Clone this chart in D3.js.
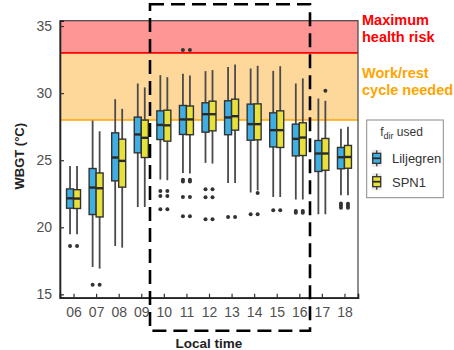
<!DOCTYPE html>
<html>
<head>
<meta charset="utf-8">
<script src="https://cdn.jsdelivr.net/npm/d3@7"></script>
<style>
  html, body { margin: 0; padding: 0; background: #fff; }
  svg { display: block; font-family: "Liberation Sans", Arial, Helvetica, sans-serif; }
</style>
</head>
<body>
<svg id="chart" width="454" height="350"></svg>
<script>
// Hourly WBGT distributions, local time 06–18
const hours = ["06","07","08","09","10","11","12","13","14","15","16","17","18"];
const seriesNames = ["Liljegren", "SPN1"];
const seriesColors = ["#3FAEE3", "#E9E13B"];

// Liljegren: lower whisker, Q1, median, Q3, upper whisker
const lilLow  = [19.48, 17.04, 18.60, 21.51, 23.56, 24.05, 24.80, 23.31, 22.59, 22.26, 22.07, 20.97, 22.39];
const lilQ1   = [21.42, 20.95, 23.46, 25.55, 26.54, 26.92, 27.09, 26.90, 26.49, 25.99, 25.32, 24.16, 24.36];
const lilMed  = [22.16, 22.96, 25.20, 26.92, 27.63, 28.04, 28.43, 28.19, 27.69, 27.24, 26.59, 25.50, 25.22];
const lilQ3   = [22.86, 24.38, 27.04, 28.21, 28.68, 29.08, 29.28, 29.43, 29.18, 28.53, 27.69, 26.47, 25.95];
const lilHigh = [24.57, 27.96, 29.55, 30.72, 31.34, 31.44, 31.64, 31.94, 31.84, 31.66, 30.72, 29.60, 27.34];
const lilOut  = [[18.6], [15.72], [], [], [22.71, 22.34, 21.34], [33.21, 23.55, 23.42, 22.26, 20.82],
                 [22.84, 22.23, 20.6], [20.77], [20.97], [21.27], [21.22, 21.08], [], [21.78, 21.62, 21.45]];

// SPN1: lower whisker, Q1, median, Q3, upper whisker
const spnLow  = [19.48, 16.92, 18.48, 21.51, 23.51, 24.00, 24.75, 23.30, 22.75, 22.26, 22.07, 20.97, 22.39];
const spnQ1   = [21.40, 20.77, 22.99, 25.20, 26.42, 26.90, 27.19, 27.24, 26.52, 25.95, 25.35, 24.25, 24.40];
const spnMed  = [22.14, 22.91, 24.95, 26.67, 27.60, 28.04, 28.43, 28.28, 27.69, 27.24, 26.69, 25.50, 25.24];
const spnQ3   = [22.80, 24.05, 26.57, 27.99, 28.73, 29.04, 29.40, 29.55, 29.20, 28.68, 27.79, 26.62, 26.10];
const spnHigh = [24.57, 27.16, 28.83, 30.43, 31.19, 31.32, 31.72, 32.14, 32.04, 32.01, 31.10, 29.43, 27.49];
const spnOut  = [[18.6], [15.72], [], [], [22.71, 22.34, 21.34], [33.21, 23.55, 23.42, 22.26, 20.82],
                 [22.84, 22.23, 20.6], [20.77], [22.55, 20.97], [21.27], [21.22, 21.08], [30.17], [21.75, 21.6, 21.45]];

// Heat-stress thresholds
const workRestLimit = 28;
const maxRiskLimit = 33;
const yTicks = [15, 20, 25, 30, 35];
const yDomain = [14.75, 35.4];

const svg = d3.select("#chart");
const panel = { left: 60, right: 358, top: 20.7, bottom: 297.7 };

const x = d3.scalePoint().domain(hours).range([panel.left, panel.right]).padding(0.6);
const y = d3.scaleLinear().domain(yDomain).range([panel.bottom, panel.top]);
const step = x.step();
const boxW = step * 0.31;

// Threshold bands
svg.append("rect")
  .attr("x", panel.left).attr("width", panel.right - panel.left)
  .attr("y", y(yDomain[1])).attr("height", y(maxRiskLimit) - y(yDomain[1]))
  .attr("fill", "#FF9696");
svg.append("rect")
  .attr("x", panel.left).attr("width", panel.right - panel.left)
  .attr("y", y(maxRiskLimit)).attr("height", y(workRestLimit) - y(maxRiskLimit))
  .attr("fill", "#FDD89A");
svg.append("line")
  .attr("x1", panel.left).attr("x2", panel.right)
  .attr("y1", y(maxRiskLimit)).attr("y2", y(maxRiskLimit))
  .attr("stroke", "#FF0000").attr("stroke-width", 1.6);
svg.append("line")
  .attr("x1", panel.left).attr("x2", panel.right)
  .attr("y1", y(workRestLimit)).attr("y2", y(workRestLimit))
  .attr("stroke", "#FFA500").attr("stroke-width", 1.6);

// Box plots
const series = [
  { low: lilLow, q1: lilQ1, med: lilMed, q3: lilQ3, high: lilHigh, out: lilOut, color: seriesColors[0], offset: -0.5 },
  { low: spnLow, q1: spnQ1, med: spnMed, q3: spnQ3, high: spnHigh, out: spnOut, color: seriesColors[1], offset: 0.5 }
];

const gBoxes = svg.append("g");
series.forEach(s => {
  hours.forEach((h, i) => {
    const cx = x(h) + s.offset * boxW;
    const g = gBoxes.append("g");
    g.append("line")
      .attr("x1", cx).attr("x2", cx)
      .attr("y1", y(s.high[i])).attr("y2", y(s.q3[i]))
      .attr("stroke", "#4a4a4a").attr("stroke-width", 1.8);
    g.append("line")
      .attr("x1", cx).attr("x2", cx)
      .attr("y1", y(s.q1[i])).attr("y2", y(s.low[i]))
      .attr("stroke", "#4a4a4a").attr("stroke-width", 1.8);
    g.append("rect")
      .attr("x", cx - boxW / 2).attr("width", boxW)
      .attr("y", y(s.q3[i])).attr("height", y(s.q1[i]) - y(s.q3[i]))
      .attr("fill", s.color).attr("stroke", "#333").attr("stroke-width", 1.4);
    g.append("line")
      .attr("x1", cx - boxW / 2).attr("x2", cx + boxW / 2)
      .attr("y1", y(s.med[i])).attr("y2", y(s.med[i]))
      .attr("stroke", "#2a2a2a").attr("stroke-width", 2.4);
    g.selectAll("circle.out").data(s.out[i]).enter().append("circle")
      .attr("cx", cx).attr("cy", d => y(d)).attr("r", 2)
      .attr("fill", "#333");
  });
});

// Panel border and axes
svg.append("rect")
  .attr("x", panel.left).attr("y", panel.top)
  .attr("width", panel.right - panel.left).attr("height", panel.bottom - panel.top)
  .attr("fill", "none").attr("stroke", "#444").attr("stroke-width", 1.2);

const yAxis = svg.append("g")
  .attr("transform", `translate(${panel.left},0)`)
  .call(d3.axisLeft(y).tickValues(yTicks).tickSize(-4).tickPadding(8));
const xAxis = svg.append("g")
  .attr("transform", `translate(0,${panel.bottom})`)
  .call(d3.axisBottom(x).tickSize(-4).tickPadding(9));
[yAxis, xAxis].forEach(a => {
  a.select(".domain").attr("stroke", "#222").attr("stroke-width", 1.6);
  a.selectAll(".tick line").attr("stroke", "#333").attr("stroke-width", 1.2);
  a.selectAll(".tick text")
    .attr("fill", "#505050").style("font-size", "14px")
    .style("font-family", "'Liberation Sans', Arial, sans-serif");
});

// Axis titles
svg.append("text")
  .attr("x", (panel.left + panel.right) / 2).attr("y", 348)
  .attr("text-anchor", "middle")
  .style("font-size", "13.5px").style("font-weight", "bold").attr("fill", "#222")
  .text("Local time");
svg.append("text")
  .attr("transform", `translate(24,${(panel.top + panel.bottom) / 2 - 3}) rotate(-90)`)
  .attr("text-anchor", "middle")
  .style("font-size", "13px").style("font-weight", "bold").attr("fill", "#222")
  .text("WBGT (°C)");

// Threshold annotations
const notes = [
  { lines: ["Maximum", "health risk"], color: "#FF0000", y0: 25 },
  { lines: ["Work/rest", "cycle needed"], color: "#FFA500", y0: 78 }
];
notes.forEach(n => {
  const t = svg.append("text")
    .attr("fill", n.color).style("font-size", "14.5px").style("font-weight", "bold");
  n.lines.forEach((l, k) => {
    t.append("tspan").attr("x", 362).attr("y", n.y0 + k * 16.5).text(l);
  });
});

// Legend
const lg = svg.append("g");
lg.append("rect")
  .attr("x", 366.7).attr("y", 120).attr("width", 76.6).attr("height", 77.7)
  .attr("fill", "#fff").attr("stroke", "#8a8a8a").attr("stroke-width", 1);
const title = lg.append("text")
  .attr("x", 401.5).attr("y", 135.5).attr("text-anchor", "middle")
  .attr("fill", "#333").style("font-size", "12px");
title.append("tspan").text("f");
title.append("tspan").attr("dy", 3).style("font-size", "9px").text("dir");
title.append("tspan").attr("dy", -3).text(" used");

seriesNames.forEach((name, i) => {
  const cy = 158.3 + i * 23.4;
  const kx = 376.7;
  lg.append("rect")
    .attr("x", kx - 5).attr("y", cy - 8.5).attr("width", 10).attr("height", 17)
    .attr("fill", "#ebebeb");
  lg.append("line")
    .attr("x1", kx).attr("x2", kx).attr("y1", cy - 8).attr("y2", cy + 8)
    .attr("stroke", "#4a4a4a").attr("stroke-width", 1.5);
  lg.append("rect")
    .attr("x", kx - 4).attr("y", cy - 5).attr("width", 8).attr("height", 10)
    .attr("fill", seriesColors[i]).attr("stroke", "#333").attr("stroke-width", 1.3);
  lg.append("line")
    .attr("x1", kx - 4).attr("x2", kx + 4).attr("y1", cy).attr("y2", cy)
    .attr("stroke", "#2a2a2a").attr("stroke-width", 1.8);
  lg.append("text")
    .attr("x", 392).attr("y", cy + 5)
    .attr("fill", "#333").style("font-size", "13px")
    .text(name);
});

// Dashed frame around the midday hours
svg.append("rect")
  .attr("x", 150).attr("y", 4.3).attr("width", 160).attr("height", 326.4)
  .attr("fill", "none").attr("stroke", "#000").attr("stroke-width", 2.6)
  .attr("stroke-dasharray", "14,7");
</script>
</body>
</html>
